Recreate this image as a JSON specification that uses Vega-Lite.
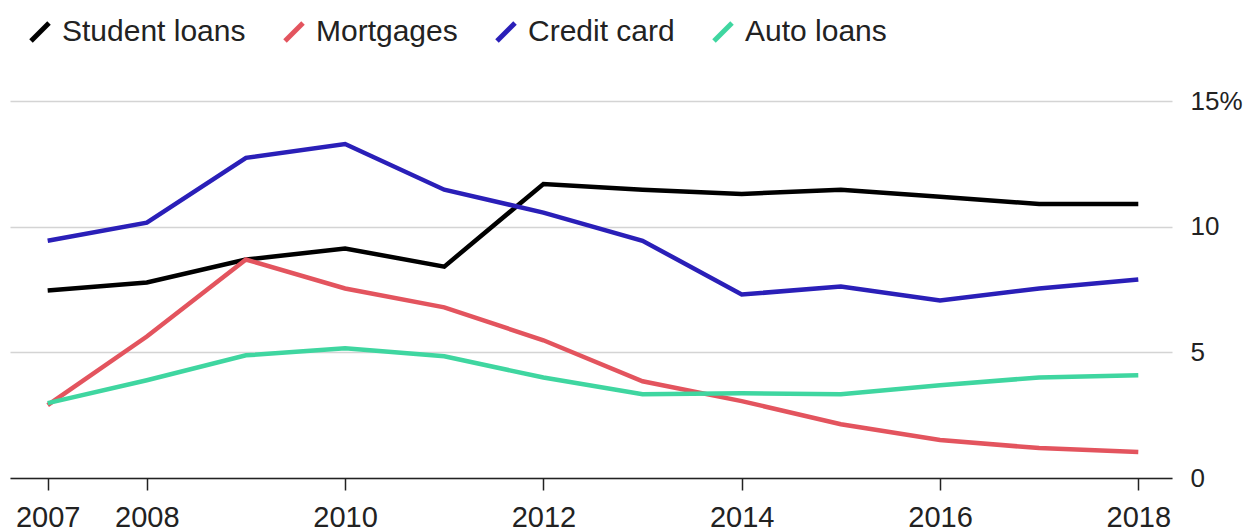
{
  "$schema": "https://vega.github.io/schema/vega-lite/v6.json",
  "autosize": {"type": "none"},
  "width": 1162,
  "height": 377,
  "padding": {"left": 10, "top": 101, "right": 75, "bottom": 54},
  "background": "white",
  "config": {
    "view": {"stroke": null},
    "font": "Liberation Sans"
  },
  "data": {
    "values": [
      {"year": 2007, "series": "Student loans", "value": 7.46},
      {"year": 2008, "series": "Student loans", "value": 7.78},
      {"year": 2009, "series": "Student loans", "value": 8.69},
      {"year": 2010, "series": "Student loans", "value": 9.13},
      {"year": 2011, "series": "Student loans", "value": 8.41},
      {"year": 2012, "series": "Student loans", "value": 11.7},
      {"year": 2013, "series": "Student loans", "value": 11.47},
      {"year": 2014, "series": "Student loans", "value": 11.3},
      {"year": 2015, "series": "Student loans", "value": 11.47},
      {"year": 2016, "series": "Student loans", "value": 11.19},
      {"year": 2017, "series": "Student loans", "value": 10.9},
      {"year": 2018, "series": "Student loans", "value": 10.9},
      {"year": 2007, "series": "Mortgages", "value": 2.9},
      {"year": 2008, "series": "Mortgages", "value": 5.63},
      {"year": 2009, "series": "Mortgages", "value": 8.69},
      {"year": 2010, "series": "Mortgages", "value": 7.54},
      {"year": 2011, "series": "Mortgages", "value": 6.79},
      {"year": 2012, "series": "Mortgages", "value": 5.48},
      {"year": 2013, "series": "Mortgages", "value": 3.85},
      {"year": 2014, "series": "Mortgages", "value": 3.06},
      {"year": 2015, "series": "Mortgages", "value": 2.14},
      {"year": 2016, "series": "Mortgages", "value": 1.51},
      {"year": 2017, "series": "Mortgages", "value": 1.19},
      {"year": 2018, "series": "Mortgages", "value": 1.03},
      {"year": 2007, "series": "Credit card", "value": 9.44},
      {"year": 2008, "series": "Credit card", "value": 10.16},
      {"year": 2009, "series": "Credit card", "value": 12.74},
      {"year": 2010, "series": "Credit card", "value": 13.29},
      {"year": 2011, "series": "Credit card", "value": 11.47},
      {"year": 2012, "series": "Credit card", "value": 10.56},
      {"year": 2013, "series": "Credit card", "value": 9.44},
      {"year": 2014, "series": "Credit card", "value": 7.3},
      {"year": 2015, "series": "Credit card", "value": 7.62},
      {"year": 2016, "series": "Credit card", "value": 7.06},
      {"year": 2017, "series": "Credit card", "value": 7.54},
      {"year": 2018, "series": "Credit card", "value": 7.9},
      {"year": 2007, "series": "Auto loans", "value": 2.98},
      {"year": 2008, "series": "Auto loans", "value": 3.89},
      {"year": 2009, "series": "Auto loans", "value": 4.88},
      {"year": 2010, "series": "Auto loans", "value": 5.16},
      {"year": 2011, "series": "Auto loans", "value": 4.84},
      {"year": 2012, "series": "Auto loans", "value": 4.0},
      {"year": 2013, "series": "Auto loans", "value": 3.33},
      {"year": 2014, "series": "Auto loans", "value": 3.37},
      {"year": 2015, "series": "Auto loans", "value": 3.33},
      {"year": 2016, "series": "Auto loans", "value": 3.69},
      {"year": 2017, "series": "Auto loans", "value": 4.0},
      {"year": 2018, "series": "Auto loans", "value": 4.09}
    ]
  },
  "mark": {"type": "line", "strokeWidth": 4.5, "strokeJoin": "miter"},
  "encoding": {
    "x": {
      "field": "year",
      "type": "quantitative",
      "scale": {"domain": [2006.62, 2018.34], "nice": false, "zero": false},
      "axis": {
        "title": null,
        "values": [2007, 2008, 2010, 2012, 2014, 2016, 2018],
        "format": "d",
        "grid": false,
        "domainColor": "#222",
        "domainWidth": 1.5,
        "tickColor": "#222",
        "tickSize": 12,
        "tickWidth": 1.5,
        "labelFontSize": 29,
        "labelColor": "#222",
        "labelPadding": 13
      }
    },
    "y": {
      "field": "value",
      "type": "quantitative",
      "scale": {"domain": [0, 15], "nice": false},
      "axis": {
        "title": null,
        "orient": "right",
        "values": [0, 5, 10, 15],
        "labelExpr": "datum.value == 15 ? '15%' : datum.label",
        "domain": false,
        "ticks": false,
        "gridColor": "#d4d4d4",
        "gridWidth": 1.5,
        "labelFontSize": 26,
        "labelColor": "#222",
        "labelPadding": 18,
        "labelBaseline": "middle"
      }
    },
    "color": {
      "field": "series",
      "type": "nominal",
      "sort": ["Student loans", "Mortgages", "Credit card", "Auto loans"],
      "scale": {
        "domain": ["Student loans", "Mortgages", "Credit card", "Auto loans"],
        "range": ["#000000", "#e3545e", "#2a1fb8", "#3fd6a0"]
      },
      "legend": {
        "title": null,
        "orient": "none",
        "direction": "horizontal",
        "legendX": 15,
        "legendY": -84,
        "symbolType": "M -0.9 0.9 L 0.9 -0.9",
        "symbolSize": 400,
        "symbolStrokeWidth": 5,
        "labelFontSize": 30,
        "labelLimit": 400,
        "labelColor": "#222",
        "labelOffset": 7,
        "columnPadding": 29
      }
    }
  }
}
